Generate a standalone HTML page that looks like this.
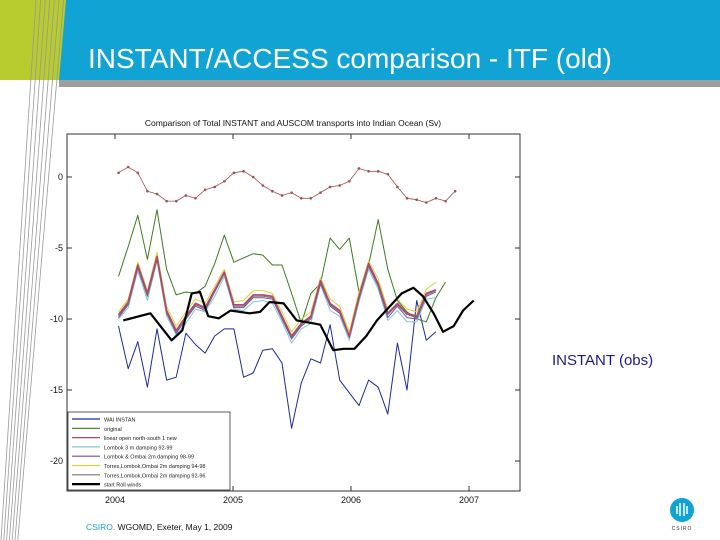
<!DOCTYPE html>
<html><head><meta charset="utf-8"><style>
body{margin:0;width:720px;height:540px;overflow:hidden;background:#fff;font-family:"Liberation Sans",sans-serif}
svg{display:block}
</style></head><body>
<svg id="s" width="720" height="540" viewBox="0 0 720 540">
<rect x="0" y="0" width="66" height="80" fill="#b6cc2f"/>
<polygon points="66,0 720,0 720,80 59,80" fill="#12a3d5"/>
<rect x="59" y="80" width="661" height="7" fill="#a09e9d"/>
<g id="deco" stroke="#999" stroke-width="0.8" fill="none"></g>
<text x="88" y="68" fill="#fff" font-size="28">INSTANT/ACCESS comparison - ITF (old)</text>
<text x="293" y="126" text-anchor="middle" font-size="8.5" fill="#111">Comparison of Total INSTANT and AUSCOM transports into Indian Ocean (Sv)</text>
<rect x="67" y="134" width="453" height="357" fill="none" stroke="#333" stroke-width="1"/>
<g id="axes" font-size="9" fill="#111"></g>
<g id="series"></g>
<g id="legend"></g>
<text x="552" y="365" fill="#1a1a8a" font-size="15">INSTANT (obs)</text>
<text x="86" y="530" font-size="8.5" fill="#111"><tspan fill="#1a9fd0">CSIRO.</tspan>  WGOMD, Exeter, May 1, 2009</text>
<circle cx="682" cy="510" r="12" fill="#12a3d5"/>
<g stroke="#fff" stroke-width="1.5" fill="none"><line x1="677" y1="506" x2="677" y2="514"/><line x1="680" y1="503" x2="680" y2="516"/><line x1="684" y1="503" x2="684" y2="516"/><line x1="687" y1="506" x2="687" y2="514"/></g>
<text x="682" y="530" text-anchor="middle" font-size="5" fill="#333" letter-spacing="1">CSIRO</text>
</svg>
<script>
const yTicks=[0,-5,-10,-15,-20];
const xTicks=[2004,2005,2006,2007];
const redTop=[0.3,0.7,0.3,-1.0,-1.2,-1.7,-1.7,-1.3,-1.5,-0.9,-0.7,-0.3,0.3,0.4,0.0,-0.6,-1.0,-1.3,-1.1,-1.5,-1.5,-1.1,-0.7,-0.6,-0.3,0.6,0.4,0.4,0.2,-0.7,-1.5,-1.6,-1.8,-1.5,-1.7,-1.0];
const original=[-7.0,-4.9,-2.7,-5.8,-2.3,-6.5,-8.3,-8.1,-8.2,-7.7,-6.1,-4.1,-6.0,-5.7,-5.4,-5.5,-6.2,-6.2,-8.2,-10.3,-8.2,-7.5,-4.3,-5.1,-4.3,-8.1,-6.2,-3.0,-6.5,-8.7,-9.5,-10.0,-10.2,-8.5,-7.4];
const pinkA=[-9.7,-8.8,-6.2,-8.2,-5.6,-9.4,-10.8,-9.8,-8.9,-9.2,-7.95,-6.7,-9.0,-9.0,-8.3,-8.3,-8.4,-9.8,-11.2,-10.3,-9.8,-7.3,-8.9,-9.4,-11.2,-8.4,-6.1,-7.5,-9.6,-8.9,-9.6,-9.8,-8.2,-7.95];
const cyanB=[-10.0,-9.2,-6.6,-8.7,-5.9,-9.8,-11.1,-10.3,-9.3,-9.5,-8.4,-7.0,-9.3,-9.4,-8.8,-8.7,-8.9,-10.2,-11.7,-10.7,-10.3,-7.6,-9.4,-9.8,-11.5,-8.8,-6.5,-7.9,-10.1,-9.4,-10.2,-10.2,-8.6,-8.5];
const purpleC=[-9.9,-9.0,-6.4,-8.4,-5.8,-9.6,-11.0,-10.0,-9.1,-9.4,-8.1,-6.8,-9.2,-9.2,-8.5,-8.5,-8.6,-10.0,-11.4,-10.5,-10.0,-7.5,-9.1,-9.6,-11.3,-8.6,-6.3,-7.7,-9.9,-9.1,-9.9,-10.0,-8.4,-8.1];
const yellowD=[-9.5,-8.6,-6.0,-8.0,-5.3,-9.1,-10.5,-9.5,-8.6,-8.9,-7.7,-6.5,-8.8,-8.7,-8.0,-8.0,-8.2,-9.5,-10.9,-10.0,-9.5,-7.1,-8.6,-9.1,-10.9,-8.1,-5.9,-7.2,-9.3,-8.6,-9.3,-9.5,-7.9,-7.4];
const grayE=[-9.8,-8.9,-6.3,-8.3,-5.7,-9.5,-10.9,-9.9,-9.0,-9.3,-8.0,-6.8,-9.1,-9.1,-8.4,-8.4,-8.5,-9.9,-11.3,-10.4,-9.9,-7.4,-9.0,-9.5,-11.2,-8.5,-6.2,-7.6,-9.7,-9.0,-9.7,-9.9,-8.3,-8.0];
const blueMain=[-10.5,-13.5,-11.6,-14.8,-10.7,-14.3,-14.1,-11.0,-11.8,-12.4,-11.2,-10.7,-10.7,-14.1,-13.8,-12.2,-12.1,-13.1,-17.7,-14.5,-12.8,-13.1,-10.4,-14.3,-15.2,-16.1,-14.3,-14.8,-16.7,-11.7,-15.0,-8.7,-11.5,-10.9];
const obsT=[2004.07,2004.3,2004.48,2004.57,2004.65,2004.72,2004.79,2004.88,2004.98,2005.14,2005.23,2005.31,2005.43,2005.54,2005.68,2005.74,2005.85,2005.94,2006.03,2006.13,2006.22,2006.33,2006.43,2006.53,2006.61,2006.7,2006.78,2006.87,2006.95,2007.04];
const obsV=[-10.1,-9.6,-11.5,-10.8,-8.2,-8.1,-9.8,-9.95,-9.4,-9.6,-9.5,-8.8,-8.9,-10.1,-10.3,-10.4,-12.2,-12.1,-12.1,-11.2,-10.1,-9.1,-8.2,-7.8,-8.4,-9.6,-10.9,-10.5,-9.4,-8.7];
const legendLabels=["WAI INSTAN","original","linear open north-south 1 new","Lombok 3 m damping 92-99","Lombok & Ombai 2m damping 98-99","Torres,Lombok,Ombai 2m damping 94-98","Torres,Lombok,Ombai 2m damping 92-96","start Roll winds"];
const legendColors=["#1b2a9a","#3f7a22","#b2476a","#7fc8d0","#7a4aa6","#d8d23a","#777","#000"];

const NS="http://www.w3.org/2000/svg";
const X=t=>115+(t-2004)*118;
const Y=v=>177-v*14.2;
const mT=i=>2004.03+i*0.0815;
function mk(tag,attrs,parent){const e=document.createElementNS(NS,tag);for(const k in attrs)e.setAttribute(k,attrs[k]);parent.appendChild(e);return e;}
const deco=document.getElementById('deco');
for(let k=0;k<7;k++){
  const l=mk('line',{x1:36+4.6*k,y1:0,x2:1+2.8*k,y2:540},deco);
  
  
}
const ax=document.getElementById('axes');
yTicks.forEach(v=>{
  const l=mk('line',{x1:67,x2:72,y1:Y(v),y2:Y(v),stroke:'#333'},ax);
  
  
  const r=mk('line',{x1:515,x2:520,y1:Y(v),y2:Y(v),stroke:'#333'},ax);
  
  
  const t=mk('text',{x:63,y:Y(v)+3,'text-anchor':'end'},ax);
  t.textContent=v;
  
  
});
xTicks.forEach(v=>{
  const l=mk('line',{x1:X(v),x2:X(v),y1:486,y2:491,stroke:'#333'},ax);
  
  
  const l2=mk('line',{x1:X(v),x2:X(v),y1:134,y2:139,stroke:'#333'},ax);
  
  
  const t=mk('text',{x:X(v),y:503,'text-anchor':'middle'},ax);
  t.textContent=v;
  
  
});
const sg=document.getElementById('series');
function line(vals,color,w,name,times){
  const pts=vals.map((v,i)=>X(times?times[i]:mT(i)).toFixed(1)+','+Y(v).toFixed(1)).join(' ');
  const p=mk('polyline',{points:pts,fill:'none',stroke:color,'stroke-width':w,'stroke-linejoin':'round'},sg);
  
  
  return p;
}
line(blueMain,'#1b2a9a',1,'series-wai-instan');
line(original,'#3f7a22',1,'series-original');
line(yellowD,'#d8d23a',1,'series-torres-94-98');
line(cyanB,'#7fc8d0',1,'series-lombok-3m');
line(purpleC,'#7a4aa6',1,'series-lombok-ombai');
line(grayE,'#777',1,'series-torres-92-96');
line(pinkA,'#b2476a',1.6,'series-linear-open');
line(redTop,'#a05050',0.8,'series-top-dotted');
redTop.forEach((v,i)=>{
  const c=mk('circle',{cx:X(mT(i)),cy:Y(v),r:1.3,fill:'#a05050'},sg);
  
  
});
line(obsV,'#000',2.2,'series-start-roll-winds',obsT);
const lg=document.getElementById('legend');
const lb=mk('rect',{x:68,y:412,width:162,height:78,fill:'#fff',stroke:'#333','stroke-width':0.8},lg);


legendLabels.forEach((s,i)=>{
  const y=419+i*9.3;
  const l=mk('line',{x1:72,x2:100,y1:y,y2:y,stroke:legendColors[i],'stroke-width':i==7?2.2:1.2},lg);
  
  
  const t=mk('text',{x:104,y:y+2.5,'font-size':5.5,fill:'#222'},lg);
  t.textContent=s;
  
  
});
</script>
</body></html>
